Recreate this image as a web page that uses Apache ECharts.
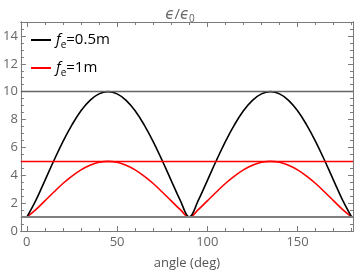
<!DOCTYPE html>
<html>
<head>
<meta charset="utf-8">
<script src="https://cdn.jsdelivr.net/npm/echarts@6/dist/echarts.min.js"></script>
<style>html,body{margin:0;padding:0;background:#fff}#c{width:360px;height:275px}</style>
</head>
<body>
<div id="c"></div>
<script>
const angles = [0,5,10,15,20,25,30,35,40,45,50,55,60,65,70,75,80,85,90,95,100,105,110,115,120,125,130,135,140,145,150,155,160,165,170,175,180];
const blackVals = [1,2.2,3.62,5.06,6.42,7.62,8.63,9.38,9.84,10,9.84,9.38,8.63,7.62,6.42,5.06,3.62,2.2,1,2.2,3.62,5.06,6.42,7.62,8.63,9.38,9.84,10,9.84,9.38,8.63,7.62,6.42,5.06,3.62,2.2,1];
const redVals = [1,1.53,2.16,2.8,3.41,3.94,4.39,4.72,4.93,5,4.93,4.72,4.39,3.94,3.41,2.8,2.16,1.53,1,1.53,2.16,2.8,3.41,3.94,4.39,4.72,4.93,5,4.93,4.72,4.39,3.94,3.41,2.8,2.16,1.53,1];
const seriesNames = ['fe=0.5m', 'fe=1m'];
const legendLabels = {'fe=0.5m': '{i|f}{s|e}{n|=0.5m}', 'fe=1m': '{i|f}{s|e}{n|=1m}'};
const refLevels = [10, 5, 1];
const xMajor = [0, 50, 100, 150];
const xMinor = [10,20,30,40,60,70,80,90,110,120,130,140,160,170,180];
const yMajor = [0,2,4,6,8,10,12,14];
const yMinor = [0.5,1,1.5,2.5,3,3.5,4.5,5,5.5,6.5,7,7.5,8.5,9,9.5,10.5,11,11.5,12.5,13,13.5,14.5];
const xMin = -3.3, xMax = 180.7, yMin = 0, yMax = 15;

const FONT = '"Open Sans", "DejaVu Sans", sans-serif';
const frameColor = '#7a7a7a';
const labelColor = '#666';

function xAx(pos, ticks, len, labels, extra) {
  return Object.assign({
    type: 'value', position: pos, min: xMin, max: xMax,
    axisLine: {show: true, onZero: false, lineStyle: {color: frameColor, width: 1}},
    axisTick: {show: true, inside: true, length: len, customValues: ticks, lineStyle: {color: frameColor}},
    axisLabel: labels ? {show: true, customValues: ticks, color: labelColor, fontFamily: FONT, fontSize: 13, margin: 5} : {show: false},
    splitLine: {show: false}
  }, extra || {});
}
function yAx(pos, ticks, len, labels) {
  return {
    type: 'value', position: pos, min: yMin, max: yMax,
    axisLine: {show: true, onZero: false, lineStyle: {color: frameColor, width: 1}},
    axisTick: {show: true, inside: true, length: len, customValues: ticks, lineStyle: {color: frameColor}},
    axisLabel: labels ? {show: true, customValues: ticks, color: labelColor, fontFamily: FONT, fontSize: 13, margin: 3} : {show: false},
    splitLine: {show: false}
  };
}

const chart = echarts.init(document.getElementById('c'), null, {renderer: 'canvas'});
chart.setOption({
  animation: false,
  backgroundColor: '#fff',
  title: {
    text: '{i|ϵ}/{i|ϵ}{s|0}',
    left: 'center', top: 1,
    textStyle: {
      color: '#666', fontFamily: FONT, fontSize: 15, fontWeight: 'normal',
      rich: {
        i: {fontStyle: 'italic', fontSize: 15, color: '#666', fontFamily: FONT},
        s: {fontSize: 10, color: '#666', fontFamily: FONT, padding: [8, 0, 0, 0]}
      }
    }
  },
  grid: {left: 20, right: 7, top: 22, bottom: 43.5, containLabel: false},
  legend: {
    orient: 'vertical', left: 26, top: 25, itemGap: 8,
    itemWidth: 20, itemHeight: 2, icon: 'rect',
    data: seriesNames,
    formatter: n => legendLabels[n],
    textStyle: {
      color: '#000', fontFamily: FONT, fontSize: 15, lineHeight: 20,
      rich: {
        i: {fontStyle: 'italic', fontSize: 15, lineHeight: 20, color: '#000', fontFamily: FONT},
        n: {fontSize: 15, lineHeight: 20, color: '#000', fontFamily: FONT},
        s: {fontSize: 10, lineHeight: 10, verticalAlign: 'bottom', color: '#000', fontFamily: FONT}
      }
    }
  },
  xAxis: [
    xAx('bottom', xMajor, 5, true, {name: 'angle (deg)', nameLocation: 'middle', nameGap: 26,
      nameTextStyle: {color: '#555', fontFamily: FONT, fontSize: 13}}),
    xAx('bottom', xMinor, 3, false),
    xAx('top', xMajor, 5, false),
    xAx('top', xMinor, 3, false)
  ],
  yAxis: [
    yAx('left', yMajor, 5, true),
    yAx('left', yMinor, 3, false),
    yAx('right', yMajor, 5, false),
    yAx('right', yMinor, 3, false)
  ],
  series: [
    {
      name: seriesNames[0], type: 'line', xAxisIndex: 0, yAxisIndex: 0,
      data: angles.map((a, i) => [a, blackVals[i]]),
      smooth: 0.4, symbol: 'none', showSymbol: false,
      lineStyle: {color: '#000', width: 1.6}, itemStyle: {color: '#000'}, z: 3,
      markLine: {
        silent: true, symbol: 'none', label: {show: false},
        data: [
          {yAxis: refLevels[0], lineStyle: {color: '#666', width: 1.3, type: 'solid'}},
          {yAxis: refLevels[2], lineStyle: {color: '#808080', width: 2.2, type: 'solid'}}
        ]
      }
    },
    {
      name: seriesNames[1], type: 'line', xAxisIndex: 0, yAxisIndex: 0,
      data: angles.map((a, i) => [a, redVals[i]]),
      smooth: 0.4, symbol: 'none', showSymbol: false,
      lineStyle: {color: '#ff0000', width: 1.6}, itemStyle: {color: '#ff0000'}, z: 2,
      markLine: {
        silent: true, symbol: 'none', label: {show: false},
        data: [
          {yAxis: refLevels[1], lineStyle: {color: '#ff0000', width: 1.3, type: 'solid'}}
        ]
      }
    }
  ]
});
</script>
</body>
</html>
